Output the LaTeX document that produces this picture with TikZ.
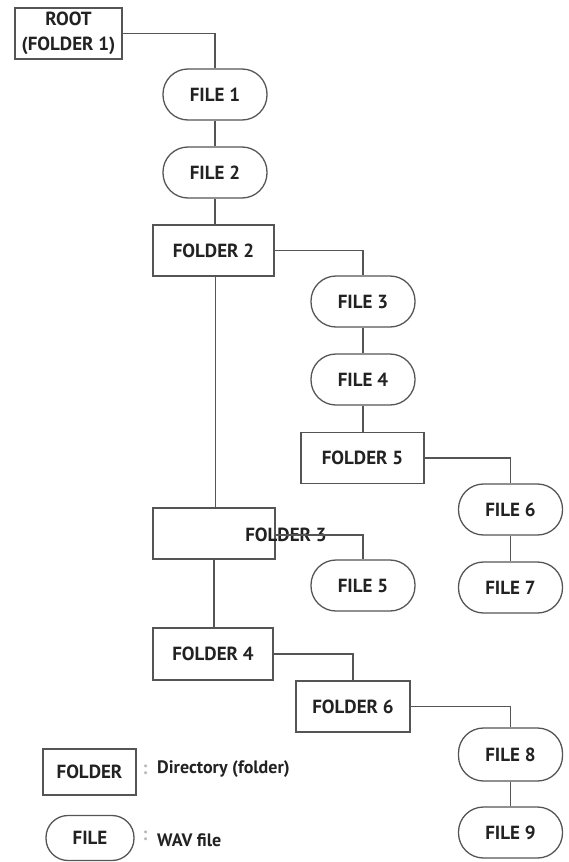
\documentclass[tikz,border=0pt]{standalone}
\usepackage{fontspec}
\setmainfont{PT Sans}
\definecolor{ink}{HTML}{222222}
\definecolor{edge}{HTML}{555555}
\definecolor{colon}{HTML}{BBBBBB}
\begin{document}
\begin{tikzpicture}[x=1pt,y=-1pt,
  every node/.style={text=ink,font=\fontsize{19}{25}\selectfont\bfseries,inner sep=0pt},
  folder/.style={draw=edge,line width=1.5pt,rectangle,minimum width=121pt,minimum height=51pt},
  file/.style={draw=edge,line width=1.3pt,rectangle,rounded corners=25pt,minimum width=104pt,minimum height=51pt},
  link/.style={draw=edge,line width=1.8pt}]
\useasboundingbox (0,0) rectangle (568,862);
\node[folder,minimum width=107pt,align=center] (root) at (68.5,33.5) {ROOT\\(FOLDER 1)};
\node[file] (f1) at (215,94.5) {FILE 1};
\node[file] (f2) at (215,172.5) {FILE 2};
\node[folder] (d2) at (213.5,250.5) {FOLDER 2};
\node[file] (f3) at (363,301.5) {FILE 3};
\node[file] (f4) at (363,379.5) {FILE 4};
\node[folder,minimum width=123pt] (d5) at (362.5,458) {FOLDER 5};
\node[file] (f6) at (510.5,509.5) {FILE 6};
\node[file] (f7) at (510.5,587.5) {FILE 7};
\node[folder,minimum width=122pt] (d3) at (214,533.5) {};
\node (d3t) at (286,535) {FOLDER 3};
\coordinate (d3e) at ([yshift=-1.5pt]d3.east);
\node[file] (f5) at (363,585.5) {FILE 5};
\node[folder,minimum width=120pt,minimum height=52pt] (d4) at (213,654) {FOLDER 4};
\node[folder,minimum width=114pt] (d6) at (353,706.5) {FOLDER 6};
\node[file,minimum height=53pt] (f8) at (510.5,754.5) {FILE 8};
\node[file] (f9) at (510.5,832.5) {FILE 9};
% legend
\node[folder,minimum width=93pt,minimum height=46pt] (lf) at (89.5,772) {FOLDER};
\node[text=colon] (c1) at (145,770) {:};
\node[anchor=west,font=\fontsize{18}{20}\selectfont\bfseries] (l1) at (157,769) {Directory (folder)};
\node[file,minimum width=88pt,minimum height=45pt,rounded corners=22pt] (lfi) at (90,838) {FILE};
\node[text=colon] (c2) at (145,836) {:};
\node[anchor=west,font=\fontsize{18}{20}\selectfont\bfseries] (l2) at (157,840) {WAV file};
% connectors
\draw[link] (root.east) -| (f1.north);
\draw[link] (f1) -- (f2);
\draw[link] (f2.south) -- (f2.south |- d2.north);
\draw[link] (d2.east) -| (f3.north);
\draw[link] (f3) -- (f4);
\draw[link] (f4.south) -- (f4.south |- d5.north);
\draw[link] (d5.east) -| (f6.north);
\draw[link] (f6) -- (f7);
\draw[link] ([xshift=2pt]d2.south) -- ([xshift=2pt]d2.south |- d3.north);
\draw[link] (d3e) -| (f5.north);
\draw[link] (d3.south) -- (d3.south |- d4.north);
\draw[link] (d4.east) -| (d6.north);
\draw[link] (d6.east) -| (f8.north);
\draw[link] (f8) -- (f9);
\end{tikzpicture}
\end{document}
